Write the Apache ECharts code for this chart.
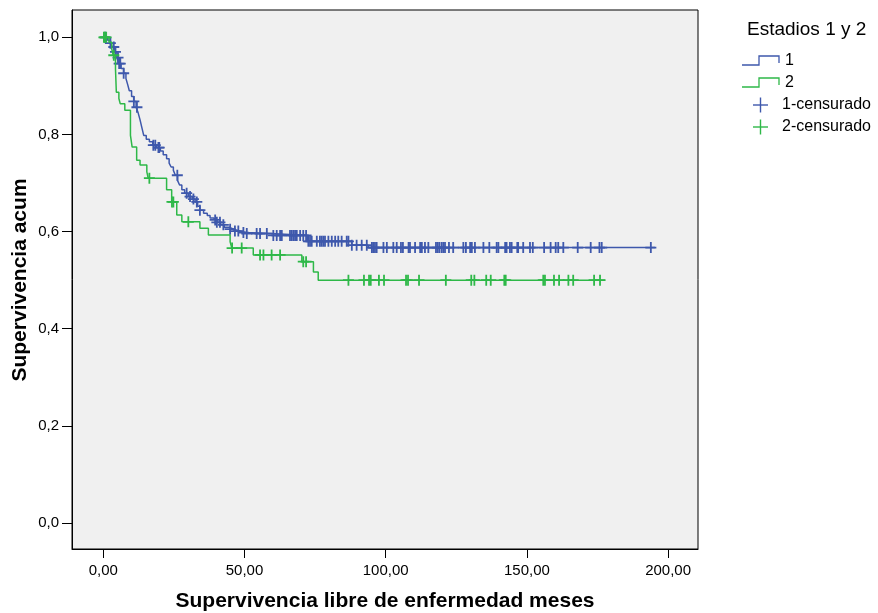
<!DOCTYPE html>
<html>
<head>
<meta charset="utf-8">
<script src="https://cdn.jsdelivr.net/npm/echarts@6/dist/echarts.min.js"></script>
<style>
html,body{margin:0;padding:0;background:#fff;}
#chart{width:878px;height:613px;}
</style>
</head>
<body>
<div id="chart"></div>
<script>
// Kaplan-Meier curve: step times and survival after each step
const group1Times = [0, 1.5, 2.5, 3.2, 4.0, 4.8, 5.5, 6.3, 7.2, 8.0, 8.6, 9.2, 10.0, 10.8, 11.6, 12.3, 13.0, 13.6, 14.3, 15.2, 16.3, 17.5, 18.8, 20.2, 21.2, 22.4, 23.3, 24.0, 24.8, 25.5, 26.3, 27.0, 27.8, 28.8, 30.1, 31.5, 32.5, 33.4, 34.2, 35.5, 36.8, 37.8, 39.0, 40.2, 41.5, 42.8, 44.5, 46.2, 48.5, 50.5, 59.5, 72.3, 88.0, 93.8];
const group1Surv  = [1.0, 0.994, 0.988, 0.980, 0.970, 0.958, 0.946, 0.936, 0.926, 0.915, 0.903, 0.890, 0.878, 0.868, 0.856, 0.845, 0.830, 0.815, 0.798, 0.790, 0.785, 0.778, 0.773, 0.766, 0.758, 0.750, 0.741, 0.733, 0.726, 0.716, 0.705, 0.696, 0.686, 0.679, 0.672, 0.667, 0.661, 0.652, 0.644, 0.638, 0.633, 0.628, 0.624, 0.619, 0.614, 0.609, 0.605, 0.601, 0.598, 0.596, 0.592, 0.580, 0.572, 0.567];
const group1End = 195.4;
const group1Censored = [0.7, 2.5, 3.7, 4.3, 5.2, 5.6, 6.0, 7.2, 10.8, 11.9, 17.7, 18.4, 19.5, 19.8, 26.2, 29.5, 30.7, 31.9, 33.1, 34.2, 39.6, 40.2, 41.3, 42.5, 44.9, 46.6, 47.8, 49.6, 50.8, 54.3, 55.5, 57.9, 60.2, 61.4, 62.6, 63.2, 66.1, 66.7, 67.3, 67.9, 68.5, 69.7, 70.8, 71.8, 72.6, 73.2, 73.8, 75.6, 76.7, 77.3, 77.9, 78.5, 79.7, 80.9, 82.1, 83.2, 84.4, 86.2, 86.8, 88.0, 89.7, 91.5, 93.3, 95.1, 95.6, 96.2, 96.8, 99.2, 100.4, 102.7, 103.9, 105.4, 106.1, 108.1, 108.6, 110.4, 112.2, 112.8, 113.9, 115.1, 117.8, 118.4, 119.0, 119.8, 120.4, 121.0, 122.4, 123.9, 127.5, 128.4, 129.9, 130.5, 131.6, 134.6, 136.7, 139.3, 139.9, 142.3, 142.8, 144.0, 144.6, 146.6, 146.9, 148.7, 151.1, 152.1, 156.1, 158.4, 160.2, 161.1, 162.9, 168.0, 172.6, 175.7, 176.5, 193.9];

const group2Times = [0, 2.0, 3.0, 3.5, 4.3, 4.6, 5.5, 6.0, 7.6, 9.6, 10.2, 11.8, 13.0, 15.4, 15.9, 22.4, 24.2, 26.0, 27.8, 34.2, 37.2, 44.9, 45.5, 53.1, 70.3, 74.4, 76.1];
const group2Surv  = [1.0, 0.990, 0.975, 0.963, 0.935, 0.887, 0.874, 0.863, 0.850, 0.798, 0.774, 0.747, 0.737, 0.723, 0.710, 0.686, 0.661, 0.634, 0.620, 0.607, 0.593, 0.579, 0.566, 0.552, 0.538, 0.517, 0.500];
const group2End = 177.7;
const group2Censored = [0.2, 0.5, 1.0, 3.7, 16.3, 24.3, 24.8, 30.1, 45.6, 49.0, 55.5, 56.7, 59.6, 62.6, 70.8, 71.8, 86.8, 92.3, 94.1, 94.7, 97.6, 99.4, 107.2, 107.9, 111.8, 121.3, 130.3, 131.4, 135.6, 137.2, 142.0, 142.5, 155.8, 156.4, 159.6, 161.4, 164.7, 166.4, 173.8, 175.9];

const xTicks = [0, 50, 100, 150, 200];
const yTicks = [0, 0.2, 0.4, 0.6, 0.8, 1.0];
const seriesNames = ['1', '2', '1-censurado', '2-censurado'];

const BLUE = '#3E58AC', GREEN = '#2EB848';
const FONT = "'Liberation Sans', Arial, sans-serif";

function stepData(T, S, end) {
  const d = T.map((t, i) => [t, S[i]]);
  d.push([end, S[S.length - 1]]);
  return d;
}
function survAt(T, S, t) {
  let s = S[0];
  for (let i = 0; i < T.length; i++) if (T[i] <= t) s = S[i];
  return s;
}
function censData(C, T, S) { return C.map(t => [t, survAt(T, S, t)]); }

const CROSS = 'path://M4.6,0 H6.4 V4.6 H11 V6.4 H6.4 V11 H4.6 V6.4 H0 V4.6 H4.6 Z';

const chart = echarts.init(document.getElementById('chart'), null, {renderer: 'canvas'});
chart.setOption({
  backgroundColor: '#ffffff',
  animation: false,
  grid: {left: 72, right: 180, top: 10, bottom: 64, show: true, backgroundColor: '#F0F0F0', borderColor: '#000', borderWidth: 1, containLabel: false},
  xAxis: {
    type: 'value', min: -11.1, max: 210.6,
    axisLine: {show: true, onZero: false, lineStyle: {color: '#000', width: 1}},
    splitLine: {show: false},
    axisTick: {show: true, inside: false, length: 9, customValues: xTicks, lineStyle: {color: '#000', width: 1}},
    axisLabel: {customValues: xTicks, margin: 14, color: '#000', fontFamily: FONT, fontSize: 15,
      formatter: v => v.toFixed(2).replace('.', ',')}
  },
  yAxis: {
    type: 'value', min: -0.0535, max: 1.0562,
    axisLine: {show: true, onZero: false, lineStyle: {color: '#000', width: 1}},
    splitLine: {show: false},
    axisTick: {show: true, inside: false, length: 10, customValues: yTicks, lineStyle: {color: '#000', width: 1}},
    axisLabel: {customValues: yTicks, margin: 13, color: '#000', fontFamily: FONT, fontSize: 15,
      formatter: v => v.toFixed(1).replace('.', ',')}
  },
  series: [
    {name: seriesNames[0], type: 'line', step: 'end', showSymbol: false, data: stepData(group1Times, group1Surv, group1End),
     lineStyle: {color: BLUE, width: 1.5}, itemStyle: {color: BLUE}, z: 2},
    {name: seriesNames[2], type: 'scatter', symbol: CROSS, symbolSize: 11, data: censData(group1Censored, group1Times, group1Surv),
     itemStyle: {color: BLUE, opacity: 1}, z: 3},
    {name: seriesNames[1], type: 'line', step: 'end', showSymbol: false, data: stepData(group2Times, group2Surv, group2End),
     lineStyle: {color: GREEN, width: 1.5}, itemStyle: {color: GREEN}, z: 4},
    {name: seriesNames[3], type: 'scatter', symbol: CROSS, symbolSize: 11, data: censData(group2Censored, group2Times, group2Surv),
     itemStyle: {color: GREEN, opacity: 1}, z: 5}
  ],
  graphic: [
    {type: 'text', x: 385, y: 601, style: {text: 'Supervivencia libre de enfermedad meses', font: "bold 21px " + FONT, fill: '#000', textAlign: 'center', textVerticalAlign: 'middle'}},
    {type: 'text', x: 20, y: 280, rotation: Math.PI / 2, style: {text: 'Supervivencia acum', font: "bold 21px " + FONT, fill: '#000', textAlign: 'center', textVerticalAlign: 'middle'}},
    {type: 'text', x: 747, y: 30, style: {text: 'Estadios 1 y 2', font: "19px " + FONT, fill: '#000', textAlign: 'left', textVerticalAlign: 'middle'}},
    {type: 'polyline', shape: {points: [[742, 65], [759, 65], [759, 56], [779, 56], [779, 63]]}, style: {stroke: BLUE, lineWidth: 1.3, fill: null}},
    {type: 'text', x: 785, y: 61, style: {text: seriesNames[0], font: "16px " + FONT, fill: '#000', textVerticalAlign: 'middle'}},
    {type: 'polyline', shape: {points: [[742, 87], [759, 87], [759, 78], [779, 78], [779, 85]]}, style: {stroke: GREEN, lineWidth: 1.3, fill: null}},
    {type: 'text', x: 785, y: 83, style: {text: seriesNames[1], font: "16px " + FONT, fill: '#000', textVerticalAlign: 'middle'}},
    {type: 'polyline', shape: {points: [[753, 105], [768, 105]]}, style: {stroke: BLUE, lineWidth: 1.4}},
    {type: 'polyline', shape: {points: [[760.5, 97.5], [760.5, 112.5]]}, style: {stroke: BLUE, lineWidth: 1.4}},
    {type: 'text', x: 782, y: 105, style: {text: seriesNames[2], font: "16px " + FONT, fill: '#000', textVerticalAlign: 'middle'}},
    {type: 'polyline', shape: {points: [[753, 127], [768, 127]]}, style: {stroke: GREEN, lineWidth: 1.4}},
    {type: 'polyline', shape: {points: [[760.5, 119.5], [760.5, 134.5]]}, style: {stroke: GREEN, lineWidth: 1.4}},
    {type: 'text', x: 782, y: 127, style: {text: seriesNames[3], font: "16px " + FONT, fill: '#000', textVerticalAlign: 'middle'}}
  ]
});
</script>
</body>
</html>
